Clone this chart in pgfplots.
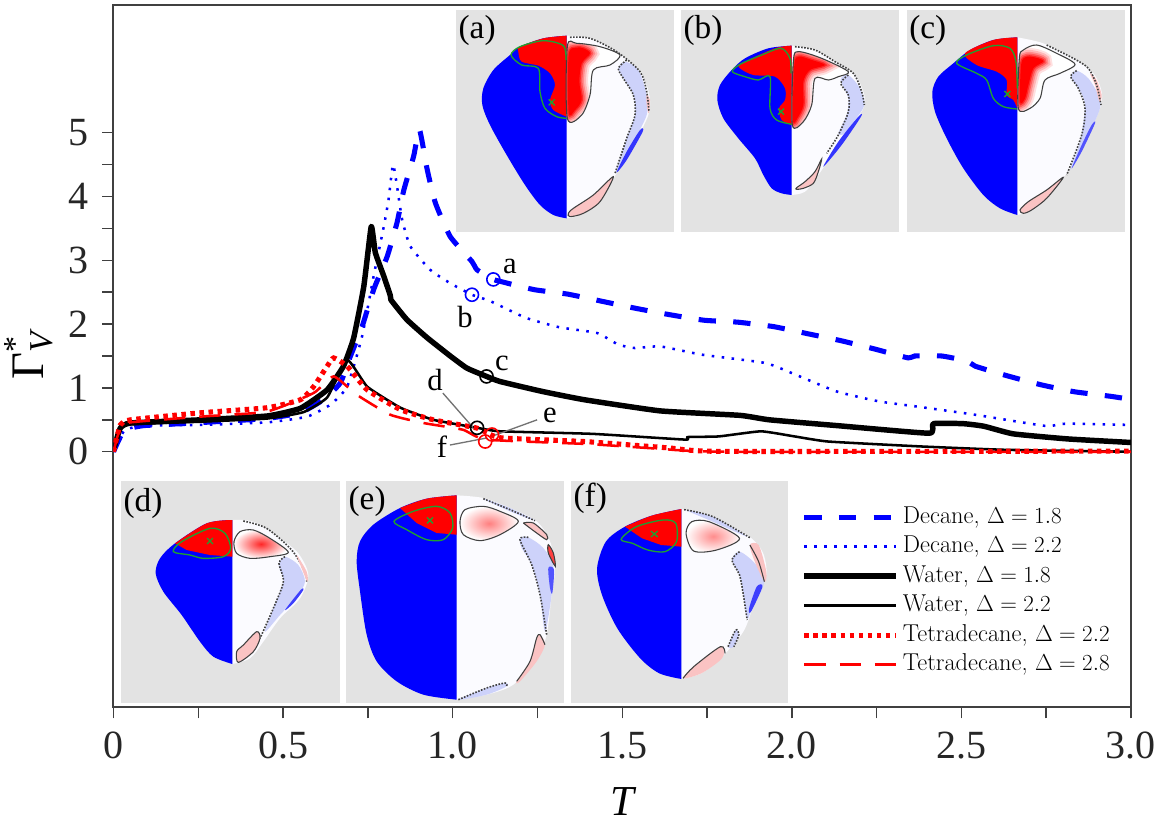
\documentclass[border=0pt]{standalone}
\usepackage{fontspec}
\usepackage{pgfplots}
\pgfplotsset{compat=1.18}
\newfontfamily\tms{Liberation Serif}
\definecolor{grn}{RGB}{30,160,50}
\definecolor{gbg}{RGB}{227,227,227}
\definecolor{wht}{RGB}{251,251,255}
\definecolor{lav}{RGB}{205,210,250}
\definecolor{pnk}{RGB}{250,195,195}
\tikzset{
 ct/.style={draw=black!75,line width=.8pt},
 dt/.style={draw=black!75,line width=1.2pt,dash pattern=on 1.2pt off 1.1pt},
 gl/.style={draw=grn,line width=1pt},
}
\newcommand\xm[2]{\draw[grn,line width=1pt] ({#1-9},{#2-9})--({#1+9},{#2+9}) ({#1-9},{#2+9})--({#1+9},{#2-9});}
\newcommand\plab[3]{\node[anchor=base west,inner sep=0pt,font=\tms\fontsize{25}{25}\selectfont] at (#1,#2) {#3};}
\newcommand\lab[3]{\node[anchor=base,inner sep=0pt,font=\tms\fontsize{23}{23}\selectfont] at (#1,#2) {#3};}
% blob with a soft edge: outer path #1, core #2
\newcommand\grad[2]{\begin{scope}\clip plot[smooth cycle] coordinates {#1};
 \fill[white] plot[smooth cycle] coordinates {#1};
 \draw[red!12!white,fill=red!12!white,line width=13pt] plot[smooth cycle] coordinates {#2};
 \draw[red!28!white,fill=red!28!white,line width=10pt] plot[smooth cycle] coordinates {#2};
 \draw[red!45!white,fill=red!45!white,line width=7pt] plot[smooth cycle] coordinates {#2};
 \draw[red!65!white,fill=red!65!white,line width=4.5pt] plot[smooth cycle] coordinates {#2};
 \draw[red!85!white,fill=red!85!white,line width=2pt] plot[smooth cycle] coordinates {#2};
 \fill[red] plot[smooth cycle] coordinates {#2};
 \end{scope}\draw[ct] plot[smooth cycle] coordinates {#1};}
\begin{document}
\begin{tikzpicture}
\path[use as bounding box] (0pt,0pt) rectangle (873.75pt,-618.75pt);
% ---- inset a
\begin{scope}[shift={(337.5pt,-3.75pt)},x=.25pt,y=-.25pt]
\fill[gbg] (18,14) rectangle (672,680);
\fill[wht] plot[smooth] coordinates {(350,92)(420,100)(500,140)(570,200)(598,270)(595,330)(550,420)(490,520)(440,590)(390,630)(350,640)} -- cycle;
\fill[blue] plot[smooth] coordinates {(350,92)(280,100)(210,125)(180,150)(130,195)(100,250)(97,300)(120,360)(170,450)(225,540)(270,600)(310,630)(350,640)} -- cycle;
\fill[red] plot[smooth] coordinates {(350,92)(280,100)(210,125)(205,140)(215,170)(265,182)(300,205)(315,240)(300,285)(310,315)(350,335)} -- cycle;
\fill[lav] plot[smooth cycle] coordinates {(505,190)(525,170)(565,195)(590,270)(590,330)(545,420)(497,505)(530,400)(555,330)(550,270)(520,220)};
\fill[blue!75!lav] plot[smooth cycle] coordinates {(570,375)(578,380)(530,465)(500,502)(530,440)};
\fill[pnk] plot[smooth cycle] coordinates {(590,270)(600,285)(596,325)(590,300)};
\grad{(352,125)(380,115)(450,125)(510,150)(480,180)(430,195)(420,270)(395,330)(352,340)}{(356,150)(378,128)(400,130)(420,145)(395,175)(388,230)(395,285)(375,315)(356,322)}
\draw[dt] plot[smooth] coordinates {(360,97)(420,100)(500,140)(570,200)(590,260)(597,320)};
\draw[dt] plot[smooth] coordinates {(530,165)(505,190)(520,220)(550,270)(555,330)(530,400)(495,505)};
\fill[pnk] plot[smooth cycle] coordinates {(355,625)(370,610)(430,570)(490,515)(450,590)(400,625)(360,635)};
\draw[ct] plot[smooth cycle] coordinates {(355,625)(370,610)(430,570)(490,515)(450,590)(400,625)(360,635)};
\draw[gl] plot[smooth] coordinates {(348,165)(340,122)(280,107)(210,125)(183,150)(215,180)(265,190)(270,260)(285,310)(320,335)(350,340)};
\xm{305}{292}
\plab{25}{100}{(a)}
\end{scope}
% ---- inset b
\begin{scope}[shift={(506.25pt,-3.75pt)},x=.25pt,y=-.25pt]
\fill[gbg] (18,14) rectangle (672,680);
\fill[wht] plot[smooth] coordinates {(350,122)(420,135)(480,170)(540,210)(568,270)(565,310)(520,380)(470,450)(430,510)(390,560)(350,570)} -- cycle;
\fill[blue] plot[smooth] coordinates {(350,122)(280,130)(210,160)(170,195)(135,240)(127,285)(145,340)(190,400)(240,460)(265,510)(290,550)(320,565)(350,570)} -- cycle;
\fill[red] plot[smooth] coordinates {(350,122)(300,130)(200,175)(195,190)(235,210)(300,215)(330,250)(330,285)(312,310)(320,345)(350,360)} -- cycle;
\fill[lav] plot[smooth cycle] coordinates {(497,225)(520,210)(555,250)(568,300)(540,345)(510,385)(490,385)(515,330)(520,280)};
\fill[blue!75!lav] plot[smooth cycle] coordinates {(550,335)(558,335)(500,420)(445,485)(490,410)};
\grad{(355,170)(370,140)(440,160)(520,200)(490,215)(460,225)(420,220)(410,300)(385,350)(352,360)}{(358,180)(372,155)(410,165)(450,180)(405,195)(385,230)(385,300)(368,338)(354,345)}
\draw[dt] plot[smooth] coordinates {(360,125)(420,135)(480,170)(535,205)(560,260)(568,300)};
\draw[dt] plot[smooth] coordinates {(520,210)(497,235)(520,270)(520,320)(490,390)(455,445)};
\fill[pnk] plot[smooth cycle] coordinates {(365,548)(390,530)(420,500)(440,462)(430,500)(415,535)(385,550)(365,553)};
\draw[ct] plot[smooth cycle] coordinates {(365,548)(390,530)(420,500)(440,462)(430,500)(415,535)(385,550)(365,553)};
\draw[gl] plot[smooth] coordinates {(348,205)(345,160)(318,130)(260,150)(195,178)(172,200)(210,215)(250,225)(285,215)(285,310)(305,345)(350,358)};
\xm{318}{320}
\plab{25}{100}{(b)}
\end{scope}
% ---- inset c
\begin{scope}[shift={(585pt,-3.75pt)},x=.25pt,y=-.25pt]
\fill[gbg] (380,14) rectangle (1035,680);
\fill[wht] plot[smooth] coordinates {(712,97)(790,115)(880,160)(940,205)(965,260)(960,310)(920,400)(870,490)(810,570)(760,615)(712,630)} -- cycle;
\fill[blue] plot[smooth] coordinates {(712,97)(640,105)(570,135)(520,175)(475,215)(457,260)(465,320)(500,400)(550,490)(610,570)(660,610)(712,630)} -- cycle;
\fill[red] plot[smooth] coordinates {(712,97)(640,105)(555,145)(590,180)(650,200)(680,225)(680,270)(700,285)(712,310)} -- cycle;
\fill[lav] plot[smooth cycle] coordinates {(872,215)(890,197)(925,220)(955,270)(960,310)(925,390)(870,495)(900,410)(915,300)(895,250)};
\fill[blue!60!lav] plot[smooth cycle] coordinates {(935,360)(945,355)(905,440)(875,490)(905,420)};
\fill[pnk] plot[smooth cycle] coordinates {(930,205)(950,225)(965,270)(958,290)(945,240)};
\grad{(718,160)(730,135)(770,120)(830,145)(885,178)(840,205)(795,225)(780,280)(750,310)(715,310)}{(724,175)(742,155)(775,160)(790,170)(760,190)(745,240)(735,280)(720,290)}
\draw[dt] plot[smooth] coordinates {(800,120)(880,160)(925,190)(950,240)(963,300)};
\draw[dt] plot[smooth] coordinates {(890,197)(872,215)(895,250)(915,310)(905,390)(860,510)};
\fill[pnk] plot[smooth cycle] coordinates {(720,615)(745,590)(800,555)(850,517)(800,580)(755,615)(730,625)};
\draw[ct] plot[smooth cycle] coordinates {(720,615)(745,590)(800,555)(850,517)(800,580)(755,615)(730,625)};
\draw[gl] plot[smooth] coordinates {(712,250)(708,170)(690,130)(640,122)(560,150)(530,175)(590,205)(620,225)(640,280)(670,305)(712,312)};
\xm{682}{267}
\plab{387}{100}{(c)}
\end{scope}
% ---- inset d
\begin{scope}[shift={(82.5pt,-356.25pt)},x=.25pt,y=-.25pt]
\fill[gbg] (33,17) rectangle (690,685);
\fill[wht] plot[smooth] coordinates {(367,135)(430,140)(510,190)(565,235)(595,300)(570,370)(510,430)(460,500)(420,550)(367,567)} -- cycle;
\fill[blue] plot[smooth] coordinates {(367,135)(290,145)(195,205)(150,250)(137,295)(160,350)(215,420)(270,500)(310,545)(367,567)} -- cycle;
\fill[red] plot[smooth] coordinates {(367,135)(290,145)(195,205)} -- (230,225) -- (300,240) -- (367,245) -- cycle;
\shade[inner color=red!85!white,outer color=white] plot[smooth cycle] coordinates {(372,200)(390,170)(430,165)(480,190)(535,232)(480,245)(420,250)(380,235)};
\draw[ct] plot[smooth cycle] coordinates {(372,200)(390,170)(430,165)(480,190)(535,232)(480,245)(420,250)(380,235)};
\fill[lav] plot[smooth cycle] coordinates {(507,265)(525,245)(565,270)(585,320)(560,365)(510,420)(465,470)(490,400)(520,320)(510,285)};
\fill[blue!70!lav] plot[smooth cycle] coordinates {(572,345)(580,345)(550,385)(525,405)};
\draw[dt] plot[smooth] coordinates {(400,138)(470,160)(545,225)(585,290)(590,320)};
\draw[dt] plot[smooth] coordinates {(525,245)(507,265)(520,320)(490,400)(450,490)};
\fill[pnk] plot[smooth cycle] coordinates {(380,530)(400,510)(440,470)(450,490)(430,530)(385,562)};
\draw[ct] plot[smooth cycle] coordinates {(380,530)(400,510)(440,470)(450,490)(430,530)(385,562)};
\fill[pnk] plot[smooth cycle] coordinates {(560,240)(590,290)(592,320)(575,280)};
\draw[gl] plot[smooth cycle] coordinates {(190,230)(215,200)(300,160)(345,175)(362,220)(340,245)(280,250)(240,240)};
\xm{300}{198}
\plab{40}{110}{(d)}
\end{scope}
% ---- inset e
\begin{scope}[shift={(255pt,-358.5pt)},x=.25pt,y=-.25pt]
\fill[gbg] (18,10) rectangle (672,675);
\fill[wht] plot[smooth] coordinates {(350,52)(430,60)(510,90)(590,130)(630,190)(645,270)(635,350)(620,470)(590,540)(520,620)(440,650)(350,665)} -- cycle;
\fill[blue] plot[smooth] coordinates {(350,52)(260,62)(180,90)(100,140)(60,190)(50,250)(60,340)(80,470)(110,550)(170,610)(250,650)(350,665)} -- cycle;
\fill[red] plot[smooth] coordinates {(350,52)(260,62)(180,90)} -- (230,135) -- (290,165) -- (350,170) -- cycle;
\shade[inner color=red!50!white,outer color=white] plot[smooth cycle] coordinates {(360,130)(375,95)(430,85)(480,100)(535,130)(480,170)(420,188)(370,170)};
\draw[ct] plot[smooth cycle] coordinates {(360,130)(375,95)(430,85)(480,100)(535,130)(480,170)(420,188)(370,170)};
\fill[lav] plot[smooth cycle] coordinates {(540,180)(565,178)(610,210)(640,265)(635,350)(615,460)(600,350)(575,260)(545,210)};
\fill[blue!60!lav] plot[smooth cycle] coordinates {(625,270)(642,275)(637,345)(630,330)};
\fill[lav] plot[smooth cycle] coordinates {(430,62)(510,90)(585,128)(510,100)};
\fill[pnk] plot[smooth cycle] coordinates {(550,135)(580,135)(620,170)(620,185)(590,165)};
\fill[red!75!white] plot[smooth cycle] coordinates {(625,200)(640,225)(646,265)(625,225)};
\draw[dt] plot[smooth] coordinates {(430,62)(510,95)(585,128)};
\draw[dt] plot[smooth] coordinates {(565,178)(540,185)(575,260)(600,350)(620,470)};
\draw[ct] plot[smooth cycle] coordinates {(625,200)(640,225)(646,265)(625,225)};
\draw[ct] plot[smooth] coordinates {(550,135)(580,135)(620,170)(620,185)(590,165)(550,135)};
\fill[pnk] plot[smooth cycle] coordinates {(530,610)(570,550)(590,480)(600,470)(615,500)(590,550)(540,610)};
\draw[ct] plot[smooth] coordinates {(530,610)(570,550)(590,480)(600,470)(615,500)};
\fill[lav] plot[smooth cycle] coordinates {(355,665)(440,630)(495,615)(500,625)(440,650)};
\draw[dt] plot[smooth] coordinates {(355,665)(440,630)(495,615)(500,625)};
\draw[gl] plot[smooth cycle] coordinates {(162,130)(220,100)(290,85)(330,105)(338,150)(310,185)(260,185)(200,155)};
\xm{270}{127}
\plab{25}{95}{(e)}
\end{scope}
% ---- inset f
\begin{scope}[shift={(420pt,-356.25pt)},x=.2865pt,y=-.25pt]
\fill[gbg] (30,17) rectangle (598,685);
\fill[wht] plot[smooth] coordinates {(318,102)(400,130)(490,180)(530,230)(540,300)(510,380)(480,470)(420,550)(370,595)(318,612)} -- cycle;
\fill[blue] plot[smooth] coordinates {(318,102)(240,122)(170,155)(120,200)(97,280)(110,360)(150,460)(210,550)(260,595)(318,612)} -- cycle;
\fill[red] plot[smooth] coordinates {(318,102)(240,122)(170,155)} -- (215,190) -- (265,210) -- (318,215) -- cycle;
\shade[inner color=red!45!white,outer color=white] plot[smooth cycle] coordinates {(330,175)(345,140)(390,140)(470,190)(410,225)(350,228)};
\draw[ct] plot[smooth cycle] coordinates {(330,175)(345,140)(390,140)(470,190)(410,225)(350,228)};
\fill[lav] plot[smooth cycle] coordinates {(450,255)(470,230)(510,265)(535,320)(500,410)(490,430)(480,360)(470,300)};
\fill[blue!70!lav] plot[smooth cycle] coordinates {(515,335)(530,335)(500,410)(495,400)};
\fill[pnk] plot[smooth cycle] coordinates {(497,210)(520,210)(540,290)(535,320)(510,260)};
\fill[lav] plot[smooth cycle] coordinates {(330,105)(400,125)(490,185)(400,140)};
\draw[dt] plot[smooth] coordinates {(325,104)(400,125)(500,190)};
\draw[dt] plot[smooth] coordinates {(470,230)(450,255)(470,300)(480,360)(490,435)};
\draw[ct] plot[smooth] coordinates {(497,210)(520,260)(535,320)};
\fill[pnk] plot[smooth cycle] coordinates {(322,610)(350,575)(420,515)(430,530)(420,555)(370,595)};
\draw[ct] plot[smooth] coordinates {(322,610)(350,575)(420,515)(432,535)};
\fill[lav] plot[smooth cycle] coordinates {(440,515)(460,465)(468,480)(455,515)};
\draw[dt] plot[smooth] coordinates {(440,515)(460,465)(468,480)(455,515)};
\draw[gl] plot[smooth cycle] coordinates {(160,193)(200,155)(270,135)(303,145)(305,200)(275,230)(230,225)(190,205)};
\xm{247}{177}
\plab{35}{95}{(f)}
\end{scope}
% ---- axis
\begin{axis}[
 at={(85.125pt,-530.25pt)},anchor=south west,
 scale only axis,width=763.1pt,height=526.5pt,
 xmin=0,xmax=3,ymin=-4,ymax=7,
 axis line style={black!75,line width=1.5pt},
 tick style={black!75,line width=1.1pt},
 tick align=outside,tick pos=left,
 major tick length=8.5pt,
 xtick={0,0.25,0.5,0.75,1,1.25,1.5,1.75,2,2.25,2.5,2.75,3},
 xticklabels={0,,0.5,,1.0,,1.5,,2.0,,2.5,,3.0},
 ytick={0,0.5,1,1.5,2,2.5,3,3.5,4,4.5,5},
 yticklabels={0,,1,,2,,3,,4,,5},
 tick label style={font=\tms\fontsize{30}{30}\selectfont,text=black!85},
 xticklabel style={yshift=-7pt},
 yticklabel style={xshift=-7pt},
 xlabel={{\tms\itshape\fontsize{32}{32}\selectfont T}},
 xlabel style={at={(axis description cs:0.5,-0.1545)},anchor=base,inner sep=0pt},
 ylabel={{\tms\fontsize{35}{35}\selectfont Γ\rlap{\raisebox{13pt}{\fontsize{24}{24}\selectfont *}}\raisebox{-7pt}{\fontsize{25}{25}\selectfont\itshape V}}},
 ylabel style={at={(axis description cs:-0.069,0.5)},anchor=base},
 legend style={at={(axis cs:2.016,-0.824)},anchor=north west,draw=none,fill=none,
   font=\fontsize{18.3}{20}\selectfont,row sep=7.1pt,
   nodes={inner sep=0pt,text height=12pt,text depth=3pt}},
 legend cell align=left,
 legend image code/.code={\draw[mark=none,#1] (0pt,0pt) -- (69pt,0pt);\path (72pt,0pt);},
]
\addplot[blue,line width=3.8pt,dash pattern=on 13pt off 13pt,smooth,tension=0.3] coordinates {
(0,0)(0.01,0.12)(0.03,0.33)(0.05,0.37)(0.09,0.41)(0.2,0.44)(0.3,0.47)(0.45,0.52)(0.55,0.61)(0.62,0.82)(0.669,1.08)(0.698,1.49)(0.733,1.96)(0.767,2.54)(0.807,3.06)(0.836,3.59)(0.856,4.1)(0.885,4.63)(0.902,5.05)(0.925,4.42)(0.949,3.9)(0.993,3.37)(1.057,2.98)(1.072,2.85)(1.12,2.7)(1.14,2.67)(1.24,2.54)(1.339,2.47)(1.438,2.36)(1.537,2.25)(1.637,2.15)(1.742,2.06)(1.841,2.03)(1.947,1.96)(2.046,1.85)(2.145,1.74)(2.244,1.61)(2.343,1.47)(2.362,1.50)(2.442,1.50)(2.517,1.42)(2.541,1.34)(2.635,1.19)(2.734,1.05)(2.833,0.94)(2.938,0.87)(3,0.82)};
\addplot[blue,line width=1.9pt,dash pattern=on 1.9pt off 5.6pt,smooth,tension=0.3] coordinates {
(0,0)(0.01,0.1)(0.03,0.32)(0.05,0.37)(0.09,0.41)(0.256,0.42)(0.453,0.46)(0.571,0.55)(0.64,0.74)(0.689,1.02)(0.733,1.81)(0.767,2.75)(0.797,3.53)(0.811,3.95)(0.824,4.5)(0.836,4.16)(0.851,3.64)(0.875,3.22)(0.934,2.85)(0.993,2.64)(1.057,2.46)(1.111,2.36)(1.215,2.10)(1.315,1.95)(1.426,1.86)(1.488,1.68)(1.537,1.625)(1.612,1.65)(1.736,1.52)(1.922,1.39)(2.01,1.21)(2.132,0.945)(2.256,0.79)(2.38,0.70)(2.54,0.58)(2.69,0.45)(2.758,0.40)(2.808,0.44)(3,0.42)};
\addplot[black,line width=4.1pt,line join=round,smooth,tension=0.25] coordinates {
(0,0.03)(0.02,0.37)(0.05,0.45)(0.256,0.50)(0.453,0.56)(0.551,0.68)(0.63,0.97)(0.678,1.34)(0.708,1.78)(0.738,2.59)(0.76,3.53)(0.772,3.12)(0.797,2.75)(0.816,2.45)(0.818,2.38)(0.865,2.07)(0.924,1.79)(0.993,1.5)(1.042,1.31)(1.10,1.18)(1.14,1.10)(1.264,0.945)(1.388,0.815)(1.612,0.64)(1.847,0.57)(1.934,0.50)(2.132,0.41)(2.405,0.29)(2.417,0.44)(2.505,0.44)(2.566,0.40)(2.653,0.28)(2.815,0.20)(3,0.145)};
\addplot[black,line width=1.9pt,line join=round,smooth,tension=0.25] coordinates {
(0,0.03)(0.02,0.35)(0.05,0.43)(0.256,0.47)(0.453,0.52)(0.56,0.62)(0.63,0.85)(0.689,1.44)(0.748,1.02)(0.846,0.69)(0.943,0.50)(1.072,0.375)(1.14,0.32)(1.413,0.28)(1.686,0.19)(1.692,0.23)(1.785,0.24)(1.909,0.32)(2.008,0.24)(2.107,0.16)(2.38,0.083)(2.63,0.03)(3,0)};
\addplot[red,line width=3.8pt,dash pattern=on 3.4pt off 3.4pt,smooth,tension=0.3] coordinates {
(0,0)(0.02,0.42)(0.05,0.50)(0.256,0.61)(0.453,0.69)(0.551,0.815)(0.59,1.02)(0.63,1.34)(0.649,1.47)(0.689,1.34)(0.748,0.97)(0.846,0.66)(0.943,0.50)(1.072,0.37)(1.14,0.22)(1.388,0.16)(1.637,0.06)(1.798,0.005)(3,0.01)};
\addplot[red,line width=1.9pt,dash pattern=on 16pt off 10.5pt,smooth,tension=0.3] coordinates {
(0,0)(0.02,0.38)(0.05,0.46)(0.256,0.55)(0.453,0.63)(0.59,0.92)(0.649,1.18)(0.718,0.89)(0.816,0.58)(0.914,0.45)(1.03,0.345)(1.10,0.19)(1.4,0.12)(1.6,0.05)(1.8,0.0)(3,0)};
\legend{Decane{,} $\Delta=1.8$,Decane{,} $\Delta=2.2$,Water{,} $\Delta=1.8$,Water{,} $\Delta=2.2$,Tetradecane{,} $\Delta=2.2$,Tetradecane{,} $\Delta=2.8$}
% state markers
\addplot[only marks,forget plot,mark=o,mark size=4.9pt,blue,mark options={line width=1.2pt}] coordinates {(1.12,2.7)(1.057,2.46)};
\addplot[only marks,forget plot,mark=o,mark size=4.9pt,black,mark options={line width=1.2pt}] coordinates {(1.10,1.18)(1.072,0.375)};
\addplot[only marks,forget plot,mark=o,mark size=4.9pt,red,mark options={line width=1.2pt}] coordinates {(1.116,0.27)(1.096,0.16)};
% leaders
\addplot[forget plot,black!55,line width=1pt] coordinates {(0.971,0.92)(1.06,0.38)};
\addplot[forget plot,black!55,line width=1pt] coordinates {(0.992,0.105)(1.10,0.215)};
\addplot[forget plot,black!55,line width=1pt] coordinates {(1.125,0.26)(1.249,0.50)};
\end{axis}
\begin{scope}[x=.75pt,y=-.75pt]
\lab{510}{273}{a}
\lab{465}{327}{b}
\lab{502}{370}{c}
\lab{435}{390}{d}
\lab{550}{422}{e}
\lab{442}{457}{f}
\end{scope}
\end{tikzpicture}
\end{document}
